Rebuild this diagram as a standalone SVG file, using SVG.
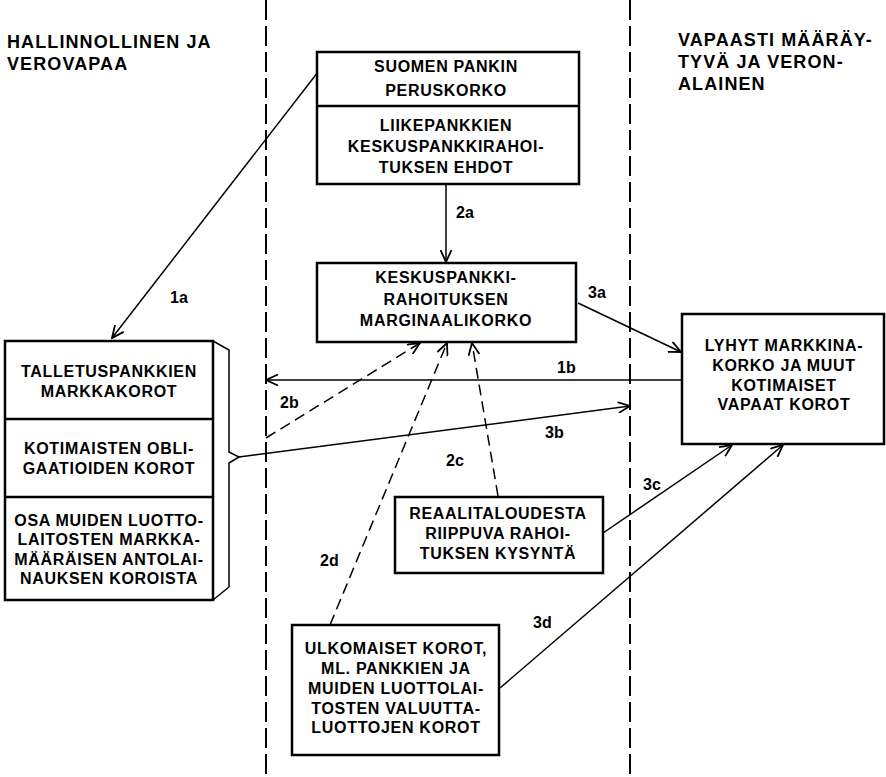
<svg xmlns="http://www.w3.org/2000/svg" width="886" height="777" viewBox="0 0 886 777">
<style>
text{font-family:"Liberation Sans",Arial,sans-serif;font-weight:bold;fill:#000}
.t{font-size:16px;letter-spacing:0.7px;text-anchor:middle}
.h{font-size:18px;letter-spacing:1.1px}
.lbl{font-size:16px}
.box{fill:#fff;stroke:#000;stroke-width:2.5}
.sep{stroke:#000;stroke-width:2.5;fill:none}
.zone{stroke:#000;stroke-width:2;stroke-dasharray:20 6;fill:none}
.c{stroke:#000;stroke-width:1.5;fill:none}
.d{stroke:#000;stroke-width:1.5;fill:none;stroke-dasharray:11 6}
.ar{stroke:#000;stroke-width:1.8;fill:none;stroke-dasharray:none}
</style>
<defs>
<marker id="a" markerUnits="userSpaceOnUse" viewBox="0 0 14 12" refX="13" refY="6" markerWidth="14" markerHeight="12" orient="auto">
<path class="ar" d="M1,0.5 L13,6 L1,11.5"/>
</marker>
</defs>
<rect width="886" height="777" fill="#fff"/>
<g id="zones">
<line class="zone" x1="266" y1="0" x2="266" y2="777"/>
<line class="zone" x1="630" y1="0" x2="630" y2="777"/>
</g>
<g id="headers">
<text class="h" x="7" y="48">HALLINNOLLINEN JA</text>
<text class="h" x="7" y="70">VEROVAPAA</text>
<text class="h" x="678" y="46">VAPAASTI MÄÄRÄY-</text>
<text class="h" x="678" y="68">TYVÄ JA VERON-</text>
<text class="h" x="678" y="90">ALAINEN</text>
</g>
<g id="connectors">
<line class="c" x1="318" y1="72" x2="112" y2="338" marker-end="url(#a)"/>
<line class="c" x1="446" y1="184" x2="446" y2="262" marker-end="url(#a)"/>
<line class="c" x1="578" y1="303" x2="681" y2="352" marker-end="url(#a)"/>
<line class="c" x1="682" y1="380" x2="266" y2="380" marker-end="url(#a)"/>
<line class="c" x1="239" y1="457" x2="630" y2="406" marker-end="url(#a)"/>
<line class="c" x1="603" y1="533" x2="732" y2="445" marker-end="url(#a)"/>
<line class="c" x1="500" y1="688" x2="783" y2="445" marker-end="url(#a)"/>
<line class="d" x1="266" y1="438" x2="420" y2="343" marker-end="url(#a)"/>
<line class="d" x1="498" y1="496" x2="472" y2="343" marker-end="url(#a)"/>
<line class="d" x1="330" y1="625" x2="447" y2="343" marker-end="url(#a)"/>
<text class="lbl" x="170" y="303">1a</text>
<text class="lbl" x="456" y="218">2a</text>
<text class="lbl" x="588" y="298">3a</text>
<text class="lbl" x="557" y="373">1b</text>
<text class="lbl" x="280" y="408">2b</text>
<text class="lbl" x="545" y="438">3b</text>
<text class="lbl" x="446" y="466">2c</text>
<text class="lbl" x="643" y="490">3c</text>
<text class="lbl" x="320" y="566">2d</text>
<text class="lbl" x="533" y="628">3d</text>
</g>
<g id="top-box">
<rect class="box" x="317" y="52" width="262" height="132"/>
<line class="sep" x1="317" y1="106" x2="579" y2="106"/>
<text class="t" x="446" y="72">SUOMEN PANKIN</text>
<text class="t" x="446" y="96">PERUSKORKO</text>
<text class="t" x="446" y="131">LIIKEPANKKIEN</text>
<text class="t" x="446" y="152">KESKUSPANKKIRAHOI-</text>
<text class="t" x="446" y="173">TUKSEN EHDOT</text>
</g>
<g id="marginal-box">
<rect class="box" x="317" y="263" width="259" height="79"/>
<text class="t" x="446" y="283">KESKUSPANKKI-</text>
<text class="t" x="446" y="305">RAHOITUKSEN</text>
<text class="t" x="446" y="326">MARGINAALIKORKO</text>
</g>
<g id="left-box">
<rect class="box" x="5" y="341" width="208" height="259"/>
<line class="sep" x1="5" y1="419" x2="213" y2="419"/>
<line class="sep" x1="5" y1="497" x2="213" y2="497"/>
<path class="c" d="M213,341 L229,350 L229,452 L239,457 L229,463 L229,587 L213,600"/>
<text class="t" x="109" y="377">TALLETUSPANKKIEN</text>
<text class="t" x="109" y="397">MARKKAKOROT</text>
<text class="t" x="109" y="454">KOTIMAISTEN OBLI-</text>
<text class="t" x="109" y="474">GAATIOIDEN KOROT</text>
<text class="t" x="109" y="526">OSA MUIDEN LUOTTO-</text>
<text class="t" x="109" y="545">LAITOSTEN MARKKA-</text>
<text class="t" x="109" y="565">MÄÄRÄISEN ANTOLAI-</text>
<text class="t" x="109" y="584">NAUKSEN KOROISTA</text>
</g>
<g id="right-box">
<rect class="box" x="682" y="314" width="202" height="130"/>
<text class="t" x="784" y="351">LYHYT MARKKINA-</text>
<text class="t" x="784" y="371">KORKO JA MUUT</text>
<text class="t" x="784" y="391">KOTIMAISET</text>
<text class="t" x="784" y="410">VAPAAT KOROT</text>
</g>
<g id="real-box">
<rect class="box" x="395" y="497" width="208" height="76"/>
<text class="t" x="498" y="519">REAALITALOUDESTA</text>
<text class="t" x="498" y="539">RIIPPUVA RAHOI-</text>
<text class="t" x="498" y="559">TUKSEN KYSYNTÄ</text>
</g>
<g id="foreign-box">
<rect class="box" x="292" y="625" width="207" height="130"/>
<text class="t" x="396" y="654">ULKOMAISET KOROT,</text>
<text class="t" x="396" y="674">ML. PANKKIEN JA</text>
<text class="t" x="396" y="694">MUIDEN LUOTTOLAI-</text>
<text class="t" x="396" y="714">TOSTEN VALUUTTA-</text>
<text class="t" x="396" y="733">LUOTTOJEN KOROT</text>
</g>
</svg>
